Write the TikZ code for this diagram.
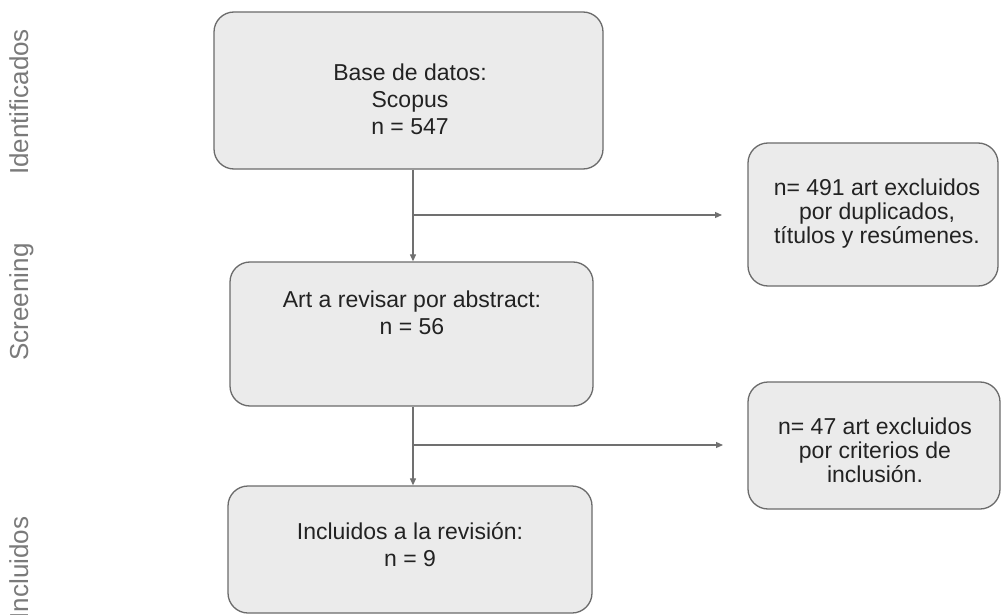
\documentclass[tikz,border=0pt]{standalone}
\usepackage{fontspec}
\setmainfont{Liberation Sans}
\usetikzlibrary{arrows.meta}
\definecolor{boxfill}{HTML}{EBEBEB}
\definecolor{boxline}{HTML}{6B6B6B}
\definecolor{linecol}{HTML}{707070}
\definecolor{sidetext}{HTML}{7A7A7A}
\definecolor{maintext}{HTML}{222222}
\begin{document}
\begin{tikzpicture}[x=1pt,y=-1pt,
 box/.style={draw=boxline, fill=boxfill, line width=1.3pt, rounded corners=20pt, inner sep=0pt},
 txt/.style={text=maintext, font=\fontsize{23}{27}\selectfont, align=center, inner sep=0pt},
 txtr/.style={txt, font=\fontsize{23}{24}\selectfont},
 side/.style={text=sidetext, font=\fontsize{26}{30}\selectfont, rotate=90, anchor=base, inner sep=0pt},
 conn/.style={draw=linecol, line width=1.2pt, -{Triangle[length=7pt,width=6pt]}}]
\useasboundingbox (0,0) rectangle (1001,615);
\fill[white] (0,0) rectangle (1001,615);

% side labels
\node[side] (s1) at (28,102) {Identificados};
\node[side] (s2) at (28,302) {Screening};
\node[side] (s3) at (28,568) {Incluidos};

% boxes
\node[box, minimum width=389pt, minimum height=157pt] (b1) at (408.5,90.5) {};
\node[box, minimum width=363pt, minimum height=144pt] (b2) at (411.5,334) {};
\node[box, minimum width=364pt, minimum height=127pt] (b3) at (410,549.5) {};
\node[box, minimum width=250pt, minimum height=143pt] (b4) at (873,214.5) {};
\node[box, minimum width=252pt, minimum height=127pt] (b5) at (874,445.5) {};

% texts
\node[txt] (t1) at (410,99) {Base de datos:\\Scopus\\n = 547};
\node[txt] (t2) at (412,313) {Art a revisar por abstract:\\n = 56};
\node[txt] (t3) at (410,545) {Incluidos a la revisión:\\n = 9};
\node[txtr] (t4) at (877,214) {n= 491 art excluidos\\por duplicados,\\títulos y resúmenes.};
\node[txtr] (t5) at (875,450) {n= 47 art excluidos\\por criterios de\\inclusión.};

% connectors
\coordinate (j1) at (413,215);
\coordinate (e1) at (722,215);
\coordinate (j2) at (413,445);
\coordinate (e2) at (723,445);
\draw[conn] (b1.south -| j1) -- (b2.north -| j1);
\draw[conn] (j1) -- (e1);
\draw[conn] (b2.south -| j2) -- (b3.north -| j2);
\draw[conn] (j2) -- (e2);
\end{tikzpicture}
\end{document}
